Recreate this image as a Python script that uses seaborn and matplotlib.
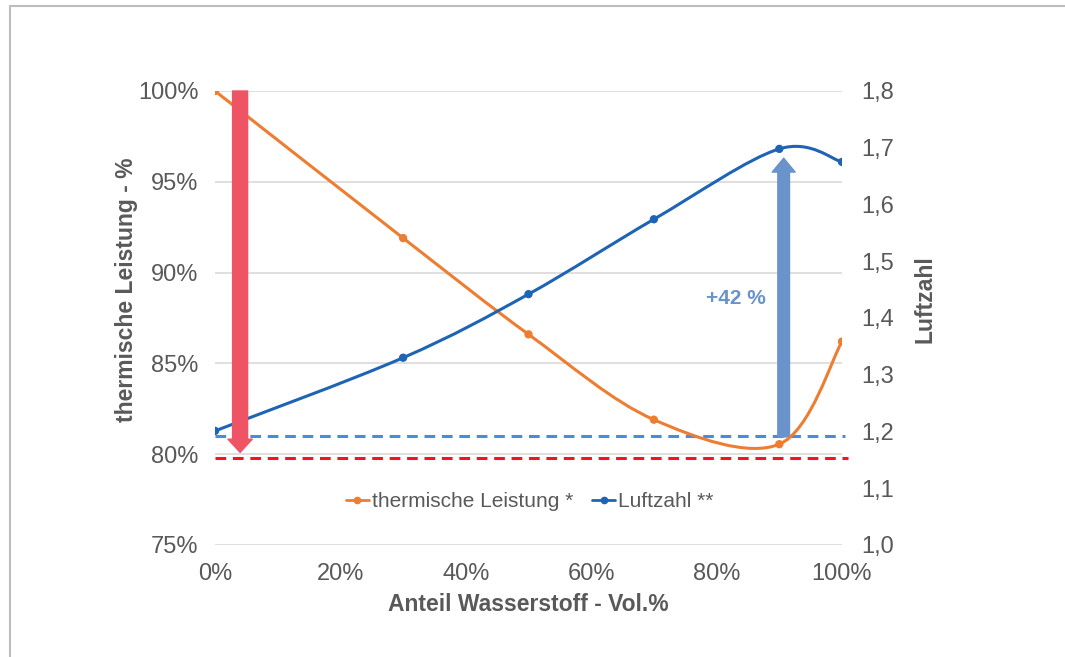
import numpy as np
import matplotlib
matplotlib.use("Agg")
import matplotlib.pyplot as plt
import seaborn as sns
from matplotlib.path import Path
from matplotlib.patches import PathPatch
from matplotlib.lines import Line2D
from matplotlib.ticker import FuncFormatter

# ===== DATA =====
h2_share = [0, 30, 50, 70, 90, 100]  # Anteil Wasserstoff - Vol.%
thermal_power = [100.0, 91.9, 86.6, 81.9, 80.55, 86.2]  # thermische Leistung - %
air_ratio = [1.201, 1.330, 1.442, 1.574, 1.698, 1.675]  # Luftzahl

left_ticks = [75, 80, 85, 90, 95, 100]
right_ticks = [1.0, 1.1, 1.2, 1.3, 1.4, 1.5, 1.6, 1.7, 1.8]
x_ticks = [0, 20, 40, 60, 80, 100]

red_ref = 79.8  # red dashed reference (left axis)
blue_ref = 81.0  # blue dashed reference (left axis)
red_arrow = (4, 100.0, 80.1)  # x, start, end (left axis)
blue_arrow = (90.7, 80.95, 96.3)
label_42 = "+42 %"

ORANGE = "#ED7D31"
BLUE = "#1E64B4"
GREY = "#595959"

sns.set_style("white")
plt.rcParams["font.family"] = ["Liberation Sans", "DejaVu Sans"]


def smooth_path(xs, ys):
    """Excel-like smoothed line: Catmull-Rom segments as cubic Bezier."""
    pts = np.column_stack([xs, ys]).astype(float)
    n = len(pts)
    verts = [pts[0]]
    codes = [Path.MOVETO]
    for i in range(n - 1):
        p0 = pts[i - 1] if i > 0 else pts[i]
        p1, p2 = pts[i], pts[i + 1]
        p3 = pts[i + 2] if i + 2 < n else pts[i + 1]
        verts += [p1 + (p2 - p0) / 6, p2 - (p3 - p1) / 6, p2]
        codes += [Path.CURVE4] * 3
    return Path(verts, codes)


fig = plt.figure(figsize=(10.65, 6.57), dpi=100)
ax = fig.add_axes([0.2019, 0.1705, 0.5887, 0.691])
ax2 = ax.twinx()

# grid
for v in left_ticks:
    ax.axhline(v, color="#D9D9D9", lw=1.2, zorder=0)

# reference lines
ax.plot([0, 100.5], [blue_ref, blue_ref], color="#4A8CD9", lw=2.2,
        dashes=(3.5, 2.2), zorder=1, clip_on=False)
ax.plot([0, 101], [red_ref, red_ref], color="#F5141E", lw=2.2,
        dashes=(3.5, 2.2), zorder=1, clip_on=False)

# blue arrow (under the orange curve)
ax.annotate("", xy=(blue_arrow[0], blue_arrow[2]), xytext=(blue_arrow[0], blue_arrow[1]),
            arrowprops=dict(arrowstyle="simple,head_length=1.0,head_width=1.65,tail_width=0.84",
                            mutation_scale=10, color="#6A93CB", shrinkA=0, shrinkB=0),
            zorder=2)
ax.text(83, 88.6, label_42, color="#6A93CB", fontsize=15, fontweight="bold",
        ha="center", va="center", zorder=2)

# orange series
ax.add_patch(PathPatch(smooth_path(h2_share, thermal_power), fill=False,
                       edgecolor=ORANGE, lw=2.2, zorder=3))
sns.scatterplot(x=h2_share, y=thermal_power, ax=ax, color=ORANGE, s=36,
                edgecolor="none", zorder=4, legend=False)

# blue series
ax2.add_patch(PathPatch(smooth_path(h2_share, air_ratio), fill=False,
                        edgecolor=BLUE, lw=2.2, zorder=3))
sns.scatterplot(x=h2_share, y=air_ratio, ax=ax2, color=BLUE, s=36,
                edgecolor="none", zorder=4, legend=False)

# red arrow on top
ax2.annotate("", xy=(red_arrow[0], red_arrow[2]), xytext=(red_arrow[0], red_arrow[1]),
             xycoords=ax.transData, textcoords=ax.transData,
             arrowprops=dict(arrowstyle="simple,head_length=0.95,head_width=1.75,tail_width=1.08",
                             mutation_scale=10, color="#EE5464", shrinkA=0, shrinkB=0),
             zorder=5)

ax.set_xlim(0, 100)
ax.set_ylim(75, 100)
ax2.set_ylim(1.0, 1.8)
ax.set_xticks(x_ticks)
ax.set_yticks(left_ticks)
ax2.set_yticks(right_ticks)
ax.xaxis.set_major_formatter(FuncFormatter(lambda v, p: f"{v:.0f}%"))
ax.yaxis.set_major_formatter(FuncFormatter(lambda v, p: f"{v:.0f}%"))
ax2.yaxis.set_major_formatter(FuncFormatter(lambda v, p: f"{v:.1f}".replace(".", ",")))

for a in (ax, ax2):
    for s in a.spines.values():
        s.set_visible(False)
    a.tick_params(length=0, labelsize=17, labelcolor=GREY)
ax.tick_params(axis="y", pad=12)
ax.tick_params(axis="x", pad=13)
ax2.tick_params(axis="y", pad=14)

ax.set_xlabel("Anteil Wasserstoff - Vol.%", fontsize=16.5, fontweight="bold",
              color=GREY, labelpad=6)
ax.set_ylabel("thermische Leistung - %", fontsize=16.5, fontweight="bold",
              color=GREY, labelpad=0)
ax2.set_ylabel("Luftzahl", fontsize=16.5, fontweight="bold", color=GREY,
               labelpad=14)
ax.yaxis.label.set_y(0.562)
ax2.yaxis.label.set_y(0.542)

handles = [
    Line2D([], [], color=ORANGE, lw=2, marker="o", markersize=4.5),
    Line2D([], [], color=BLUE, lw=2, marker="o", markersize=4.5),
]
leg = ax.legend(handles, ["thermische Leistung *", "Luftzahl **"], loc="center",
                bbox_to_anchor=(0.502, 0.095), ncol=2, frameon=False,
                fontsize=15, handlelength=1.1, handletextpad=0.15,
                columnspacing=0.9, labelcolor=GREY)

# outer frame (top and left edges)
fig.add_artist(Line2D([10 / 1065, 1], [1 - 6 / 657, 1 - 6 / 657],
                      transform=fig.transFigure, color="#BDBDBD", lw=1.5))
fig.add_artist(Line2D([10 / 1065, 10 / 1065], [0, 1 - 6 / 657],
                      transform=fig.transFigure, color="#BDBDBD", lw=1.5))

fig.savefig("out.png", dpi=100, facecolor="white")
